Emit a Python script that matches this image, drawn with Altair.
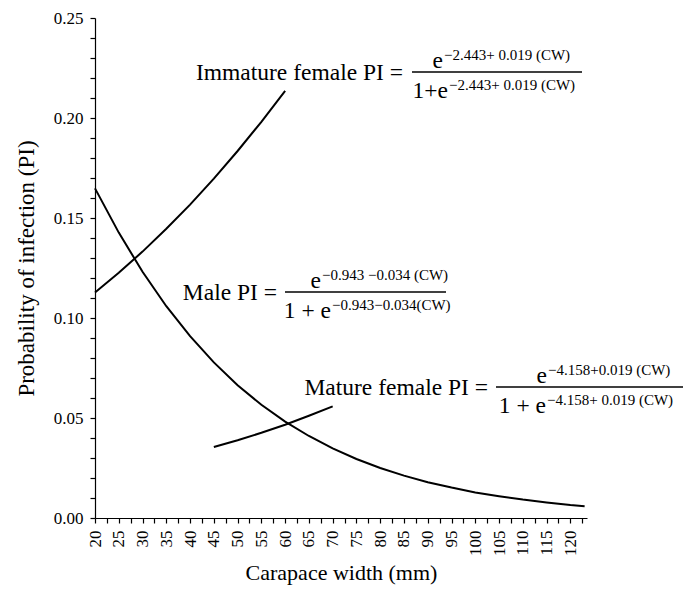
import altair as alt
import pandas as pd

# ---- data ----
cw_male = [20, 25, 30, 35, 40, 45, 50, 55, 60, 65, 70, 75, 80, 85, 90, 95, 100, 105, 110, 115, 120, 123]
pi_male = [0.1648, 0.1427, 0.1231, 0.1059, 0.0909, 0.0778, 0.0664, 0.0566, 0.0482, 0.0410, 0.0348,
           0.0295, 0.0250, 0.0212, 0.0179, 0.0152, 0.0128, 0.0109, 0.0092, 0.0078, 0.0065, 0.0059]

cw_imm = [20, 25, 30, 35, 40, 45, 50, 55, 60]
pi_imm = [0.1128, 0.1226, 0.1332, 0.1446, 0.1567, 0.1697, 0.1835, 0.1981, 0.2136]

cw_mat = [45, 50, 55, 60, 65, 70]
pi_mat = [0.0355, 0.0389, 0.0426, 0.0466, 0.0511, 0.0558]

x_labels = [20, 25, 30, 35, 40, 45, 50, 55, 60, 65, 70, 75, 80, 85, 90, 95, 100, 105, 110, 115, 120]
y_labels = [0.00, 0.05, 0.10, 0.15, 0.20, 0.25]
x_ticks = sorted(set(x_labels + [v + 2.5 for v in x_labels]))
y_ticks = [round(i / 100, 2) for i in range(0, 26)]

rows = []
for name, xs, ys in [("Male", cw_male, pi_male), ("Immature female", cw_imm, pi_imm),
                     ("Mature female", cw_mat, pi_mat)]:
    for x, y in zip(xs, ys):
        rows.append({"series": name, "cw": x, "pi": y})
df = pd.DataFrame(rows)

FONT = "Liberation Serif"

lines = alt.Chart(df).mark_line(color="black", strokeWidth=2).encode(
    x=alt.X("cw:Q", scale=alt.Scale(domain=[20, 123.5], nice=False, zero=False),
            axis=alt.Axis(values=x_ticks, labelAngle=270, grid=False,
                          labelFont=FONT, titleFont=FONT, labelFontSize=17, titleFontSize=22,
                          labelExpr="datum.value % 5 == 0 ? format(datum.value, '.0f') : ''",
                          title="Carapace width (mm)", titlePadding=7)),
    y=alt.Y("pi:Q", scale=alt.Scale(domain=[0, 0.25], nice=False, zero=False),
            axis=alt.Axis(values=y_ticks, grid=False,
                          labelFont=FONT, titleFont=FONT, labelFontSize=17, titleFontSize=23,
                          labelExpr="round(datum.value * 100) % 5 == 0 ? format(datum.value, '.2f') : ''",
                          title="Probability of infection (PI)", titlePadding=15)),
    detail="series:N",
)

one = pd.DataFrame({"k": [0]})

MAIN = 23.5
SUP = 15


def txt(s, x, y, size=MAIN, align="left"):
    return alt.Chart(one).mark_text(text=s, font=FONT, fontSize=size, align=align,
                                    baseline="alphabetic", color="black").encode(
        x=alt.value(x), y=alt.value(y))


def bar(x1, x2, y):
    return alt.Chart(one).mark_rule(color="black", strokeWidth=1.3).encode(
        x=alt.value(x1), x2=alt.value(x2), y=alt.value(y))


OX, OY = 95, 18  # plot-area origin in page pixels (used to convert read positions)


def equation(label, label_right, L, x1, x2, num_sup_x, num_sup, den_pre, den_sup_x, den_sup):
    L -= OY
    return [
        txt(label, label_right - OX, L + 8, MAIN, "right"),
        bar(x1 - OX, x2 - OX, L),
        txt("e", num_sup_x - OX - 1, L - 4, MAIN, "right"),
        txt(num_sup, num_sup_x - OX, L - 12, SUP),
        txt(den_pre, den_sup_x - OX - 1, L + 26, MAIN, "right"),
        txt(den_sup, den_sup_x - OX, L + 18, SUP),
    ]


ann = []
ann += equation("Immature female PI =", 403, 72, 412, 582, 444,
                "−2.443+ 0.019 (CW)", "1+e", 449, "−2.443+ 0.019 (CW)")
ann += equation("Male PI =", 277, 292, 285, 446, 322,
                "−0.943 −0.034 (CW)", "1 + e", 332, "−0.943−0.034(CW)")
ann += equation("Mature female PI =", 488, 387, 496, 683, 548,
                "−4.158+0.019 (CW)", "1 + e", 547, "−4.158+ 0.019 (CW)")

chart = alt.layer(lines, *ann).properties(
    width=492, height=500,
    autosize=alt.AutoSizeParams(type="none"),
    padding={"left": 87, "top": 10, "right": 100, "bottom": 71},
).configure_view(stroke=None).configure_axis(
    labelFont=FONT, titleFont=FONT, labelFontSize=17, titleFontSize=22,
    titleFontWeight="normal", labelColor="black", titleColor="black",
    domainColor="black", tickColor="black", tickSize=5, labelPadding=7,
    domainWidth=1.2, tickWidth=1.2,
)

chart.save("out.html", embed_options={"renderer": "svg", "actions": False})
